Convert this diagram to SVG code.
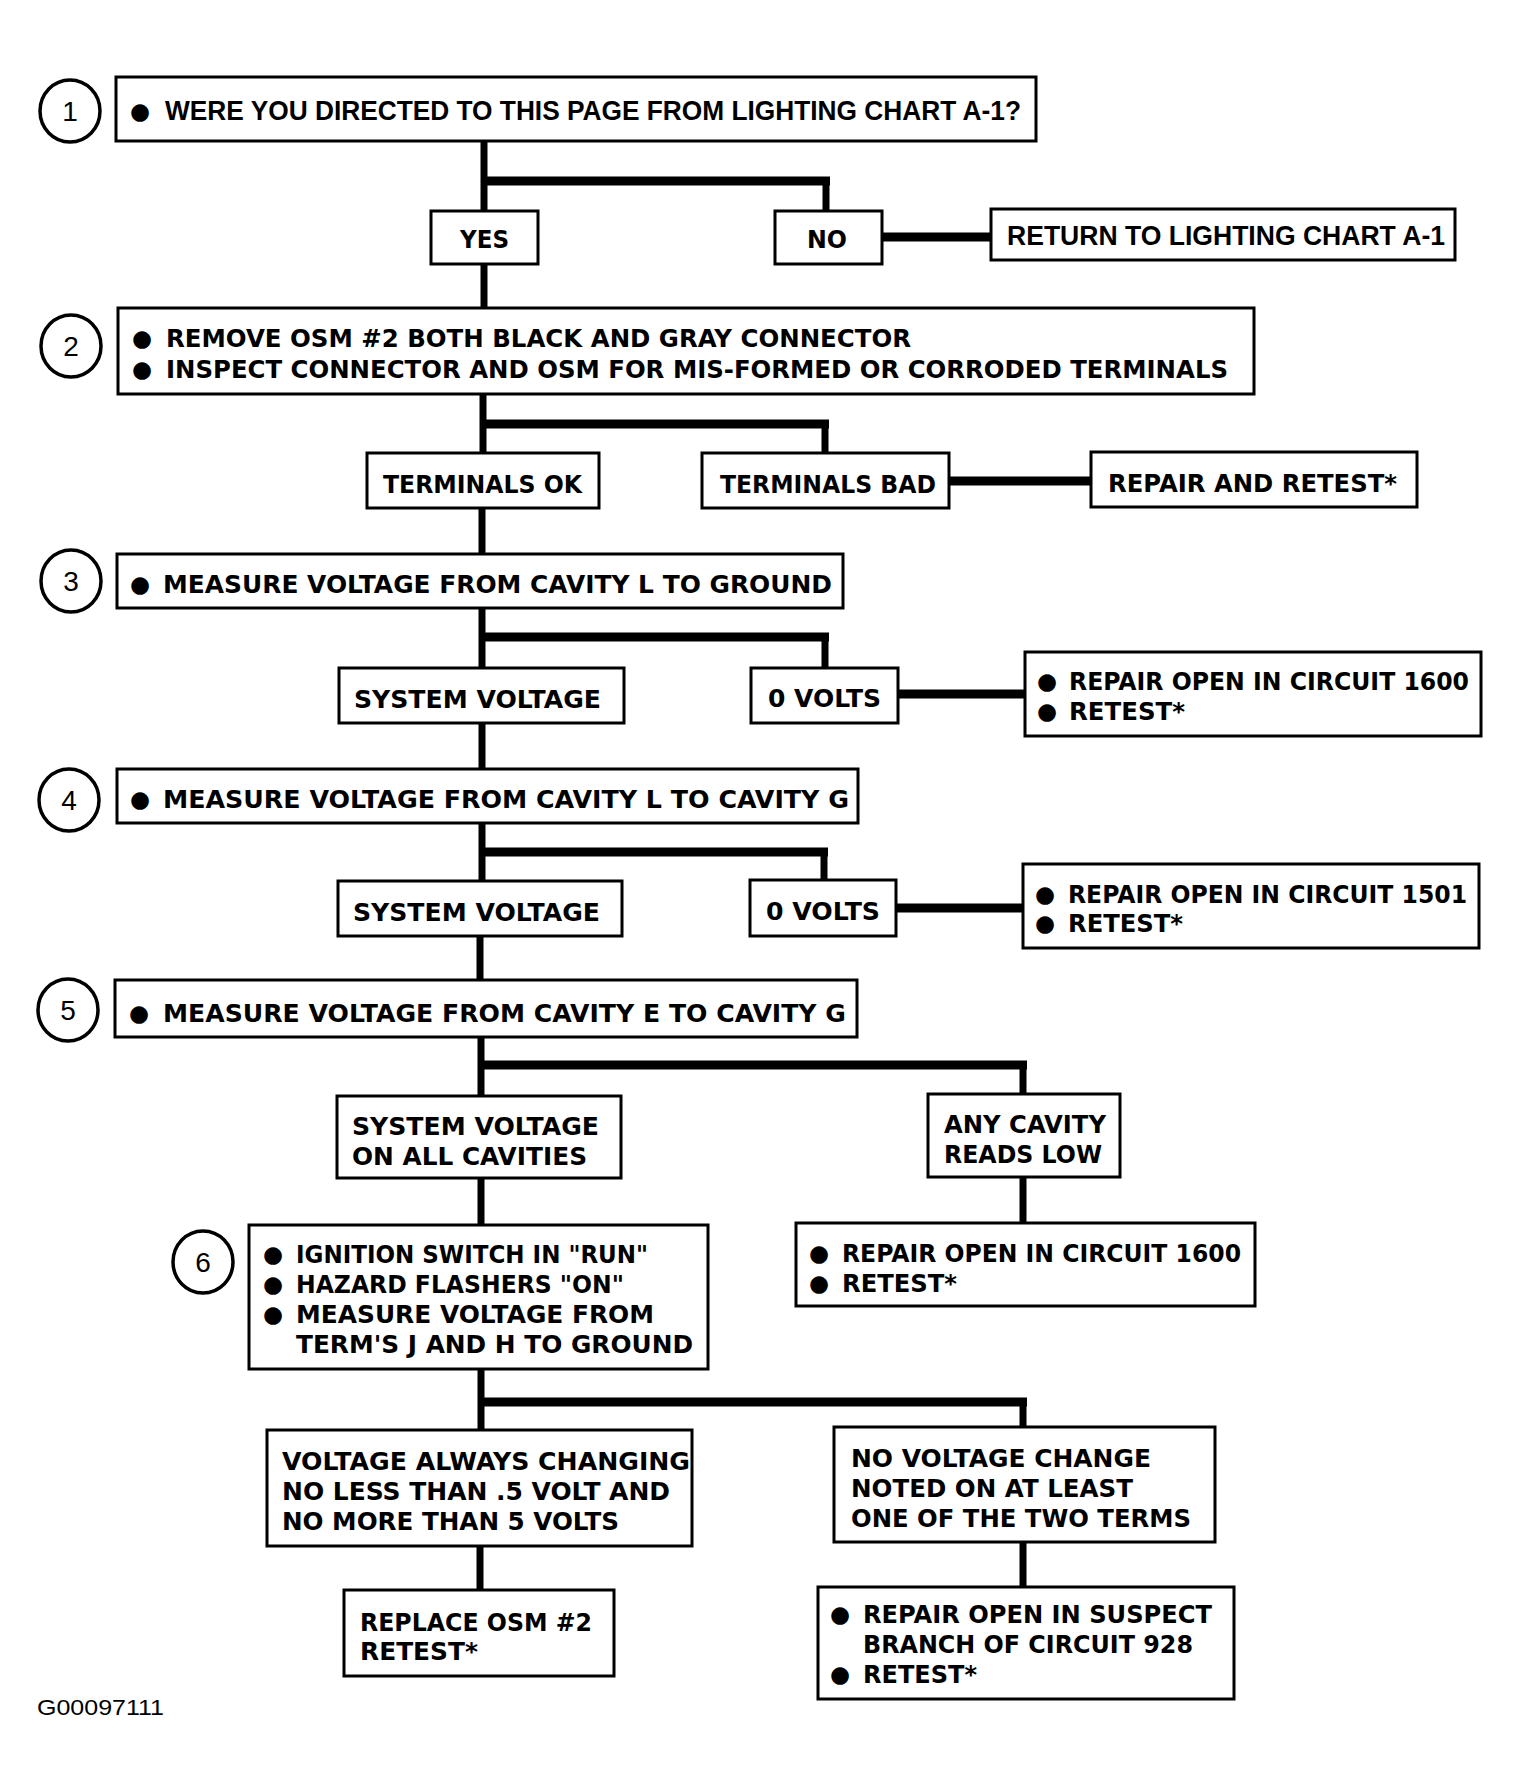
<svg xmlns="http://www.w3.org/2000/svg" width="1521" height="1791" viewBox="0 0 1521 1791">
<style>
.bg{fill:#fff}
.box{fill:#fff;stroke:#000;stroke-width:3}
.num{fill:#fff;stroke:#000;stroke-width:3.5}
.n{font-family:"Liberation Sans",Arial,sans-serif;font-size:28px;fill:#000;text-anchor:middle}
.c{font-family:"Liberation Sans",Arial,sans-serif;font-weight:bold;font-size:27px;fill:#000}
.w{font-family:"DejaVu Sans","Liberation Sans",sans-serif;font-weight:bold;font-size:24px;fill:#000}
.b{font-family:"DejaVu Sans","Liberation Sans",sans-serif;font-size:23px;fill:#000}
.f{font-family:"Liberation Sans",Arial,sans-serif;font-size:22px;fill:#000}
.v{stroke:#000;stroke-width:7;fill:none}
.h{stroke:#000;stroke-width:9;fill:none}
</style>
<rect class="bg" x="0" y="0" width="1521" height="1791"/>
<g id="connectors">
<line class="v" x1="484" y1="141" x2="484" y2="211"/>
<line class="h" x1="481" y1="181" x2="830" y2="181"/>
<line class="v" x1="826" y1="177" x2="826" y2="211"/>
<line class="h" x1="882" y1="237" x2="991" y2="237"/>
<line class="v" x1="484" y1="264" x2="484" y2="308"/>
<line class="v" x1="483" y1="394" x2="483" y2="453"/>
<line class="h" x1="480" y1="424" x2="829" y2="424"/>
<line class="v" x1="825" y1="420" x2="825" y2="453"/>
<line class="h" x1="949" y1="481" x2="1091" y2="481"/>
<line class="v" x1="482" y1="508" x2="482" y2="554"/>
<line class="v" x1="482" y1="608" x2="482" y2="668"/>
<line class="h" x1="479" y1="637" x2="829" y2="637"/>
<line class="v" x1="825" y1="633" x2="825" y2="668"/>
<line class="h" x1="898" y1="694" x2="1025" y2="694"/>
<line class="v" x1="482" y1="723" x2="482" y2="769"/>
<line class="v" x1="482" y1="823" x2="482" y2="881"/>
<line class="h" x1="479" y1="852" x2="828" y2="852"/>
<line class="v" x1="824" y1="848" x2="824" y2="880"/>
<line class="h" x1="896" y1="908" x2="1023" y2="908"/>
<line class="v" x1="480" y1="936" x2="480" y2="980"/>
<line class="v" x1="481" y1="1037" x2="481" y2="1096"/>
<line class="h" x1="478" y1="1065" x2="1027" y2="1065"/>
<line class="v" x1="1023" y1="1061" x2="1023" y2="1094"/>
<line class="v" x1="481" y1="1178" x2="481" y2="1225"/>
<line class="v" x1="1023" y1="1177" x2="1023" y2="1223"/>
<line class="v" x1="481" y1="1369" x2="481" y2="1430"/>
<line class="h" x1="478" y1="1402" x2="1027" y2="1402"/>
<line class="v" x1="1023" y1="1398" x2="1023" y2="1427"/>
<line class="v" x1="480" y1="1546" x2="480" y2="1590"/>
<line class="v" x1="1023" y1="1542" x2="1023" y2="1587"/>
</g>
<g id="step1">
<ellipse class="num" cx="70" cy="111" rx="30" ry="31"/>
<text class="n" x="70" y="121">1</text>
<rect class="box" x="116" y="77" width="920" height="64"/>
<text class="b" x="130" y="119">●</text>
<text class="c" x="165" y="120" textLength="856" lengthAdjust="spacingAndGlyphs">WERE YOU DIRECTED TO THIS PAGE FROM LIGHTING CHART A-1?</text>
</g>
<g id="yes1">
<rect class="box" x="431" y="211" width="107" height="53"/>
<text class="w" x="460" y="248" textLength="49" lengthAdjust="spacingAndGlyphs">YES</text>
</g>
<g id="no1">
<rect class="box" x="775" y="211" width="107" height="53"/>
<text class="w" x="807" y="248" textLength="40" lengthAdjust="spacingAndGlyphs">NO</text>
</g>
<g id="return">
<rect class="box" x="991" y="209" width="464" height="51"/>
<text class="c" x="1007" y="245" textLength="438" lengthAdjust="spacingAndGlyphs">RETURN TO LIGHTING CHART A-1</text>
</g>
<g id="step2">
<ellipse class="num" cx="71" cy="346" rx="30" ry="31"/>
<text class="n" x="71" y="356">2</text>
<rect class="box" x="118" y="308" width="1136" height="86"/>
<text class="b" x="132" y="346">●</text>
<text class="w" x="166" y="347" textLength="745" lengthAdjust="spacingAndGlyphs">REMOVE OSM #2 BOTH BLACK AND GRAY CONNECTOR</text>
<text class="b" x="132" y="377">●</text>
<text class="w" x="166" y="378" textLength="1062" lengthAdjust="spacingAndGlyphs">INSPECT CONNECTOR AND OSM FOR MIS-FORMED OR CORRODED TERMINALS</text>
</g>
<g id="terminals-ok">
<rect class="box" x="367" y="453" width="232" height="55"/>
<text class="w" x="383" y="493" textLength="199" lengthAdjust="spacingAndGlyphs">TERMINALS OK</text>
</g>
<g id="terminals-bad">
<rect class="box" x="702" y="453" width="247" height="55"/>
<text class="w" x="720" y="493" textLength="216" lengthAdjust="spacingAndGlyphs">TERMINALS BAD</text>
</g>
<g id="repair-retest">
<rect class="box" x="1091" y="452" width="326" height="55"/>
<text class="w" x="1108" y="492" textLength="289" lengthAdjust="spacingAndGlyphs">REPAIR AND RETEST*</text>
</g>
<g id="step3">
<ellipse class="num" cx="71" cy="581" rx="30" ry="31"/>
<text class="n" x="71" y="591">3</text>
<rect class="box" x="117" y="554" width="726" height="54"/>
<text class="b" x="130" y="592">●</text>
<text class="w" x="163" y="593" textLength="669" lengthAdjust="spacingAndGlyphs">MEASURE VOLTAGE FROM CAVITY L TO GROUND</text>
</g>
<g id="sysvolt1">
<rect class="box" x="339" y="668" width="285" height="55"/>
<text class="w" x="354" y="708" textLength="247" lengthAdjust="spacingAndGlyphs">SYSTEM VOLTAGE</text>
</g>
<g id="zerovolts1">
<rect class="box" x="751" y="668" width="147" height="55"/>
<text class="w" x="768" y="707" textLength="113" lengthAdjust="spacingAndGlyphs">0 VOLTS</text>
</g>
<g id="repair1600a">
<rect class="box" x="1025" y="652" width="456" height="84"/>
<text class="b" x="1037" y="689">●</text>
<text class="w" x="1069" y="690" textLength="400" lengthAdjust="spacingAndGlyphs">REPAIR OPEN IN CIRCUIT 1600</text>
<text class="b" x="1037" y="719">●</text>
<text class="w" x="1069" y="720" textLength="116" lengthAdjust="spacingAndGlyphs">RETEST*</text>
</g>
<g id="step4">
<ellipse class="num" cx="69" cy="800" rx="30" ry="31"/>
<text class="n" x="69" y="810">4</text>
<rect class="box" x="117" y="769" width="741" height="54"/>
<text class="b" x="130" y="807">●</text>
<text class="w" x="163" y="808" textLength="686" lengthAdjust="spacingAndGlyphs">MEASURE VOLTAGE FROM CAVITY L TO CAVITY G</text>
</g>
<g id="sysvolt2">
<rect class="box" x="338" y="881" width="284" height="55"/>
<text class="w" x="353" y="921" textLength="247" lengthAdjust="spacingAndGlyphs">SYSTEM VOLTAGE</text>
</g>
<g id="zerovolts2">
<rect class="box" x="750" y="880" width="146" height="56"/>
<text class="w" x="766" y="920" textLength="114" lengthAdjust="spacingAndGlyphs">0 VOLTS</text>
</g>
<g id="repair1501">
<rect class="box" x="1023" y="864" width="456" height="84"/>
<text class="b" x="1035" y="902">●</text>
<text class="w" x="1068" y="903" textLength="399" lengthAdjust="spacingAndGlyphs">REPAIR OPEN IN CIRCUIT 1501</text>
<text class="b" x="1035" y="931">●</text>
<text class="w" x="1068" y="932" textLength="115" lengthAdjust="spacingAndGlyphs">RETEST*</text>
</g>
<g id="step5">
<ellipse class="num" cx="68" cy="1010" rx="30" ry="31"/>
<text class="n" x="68" y="1020">5</text>
<rect class="box" x="115" y="980" width="742" height="57"/>
<text class="b" x="129" y="1021">●</text>
<text class="w" x="163" y="1022" textLength="683" lengthAdjust="spacingAndGlyphs">MEASURE VOLTAGE FROM CAVITY E TO CAVITY G</text>
</g>
<g id="sysvolt-all">
<rect class="box" x="337" y="1096" width="284" height="82"/>
<text class="w" x="352" y="1135" textLength="247" lengthAdjust="spacingAndGlyphs">SYSTEM VOLTAGE</text>
<text class="w" x="352" y="1165" textLength="235" lengthAdjust="spacingAndGlyphs">ON ALL CAVITIES</text>
</g>
<g id="any-cavity">
<rect class="box" x="928" y="1094" width="192" height="83"/>
<text class="w" x="944" y="1133" textLength="162" lengthAdjust="spacingAndGlyphs">ANY CAVITY</text>
<text class="w" x="944" y="1163" textLength="158" lengthAdjust="spacingAndGlyphs">READS LOW</text>
</g>
<g id="step6">
<ellipse class="num" cx="203" cy="1262" rx="30" ry="31"/>
<text class="n" x="203" y="1272">6</text>
<rect class="box" x="249" y="1225" width="459" height="144"/>
<text class="b" x="263" y="1262">●</text>
<text class="w" x="296" y="1263" textLength="352" lengthAdjust="spacingAndGlyphs">IGNITION SWITCH IN "RUN"</text>
<text class="b" x="263" y="1292">●</text>
<text class="w" x="296" y="1293" textLength="328" lengthAdjust="spacingAndGlyphs">HAZARD FLASHERS "ON"</text>
<text class="b" x="263" y="1322">●</text>
<text class="w" x="296" y="1323" textLength="358" lengthAdjust="spacingAndGlyphs">MEASURE VOLTAGE FROM</text>
<text class="w" x="296" y="1353" textLength="397" lengthAdjust="spacingAndGlyphs">TERM'S J AND H TO GROUND</text>
</g>
<g id="repair1600b">
<rect class="box" x="796" y="1223" width="459" height="83"/>
<text class="b" x="809" y="1261">●</text>
<text class="w" x="842" y="1262" textLength="399" lengthAdjust="spacingAndGlyphs">REPAIR OPEN IN CIRCUIT 1600</text>
<text class="b" x="809" y="1291">●</text>
<text class="w" x="842" y="1292" textLength="115" lengthAdjust="spacingAndGlyphs">RETEST*</text>
</g>
<g id="voltage-changing">
<rect class="box" x="267" y="1430" width="425" height="116"/>
<text class="w" x="282" y="1470" textLength="408" lengthAdjust="spacingAndGlyphs">VOLTAGE ALWAYS CHANGING</text>
<text class="w" x="282" y="1500" textLength="388" lengthAdjust="spacingAndGlyphs">NO LESS THAN .5 VOLT AND</text>
<text class="w" x="282" y="1530" textLength="337" lengthAdjust="spacingAndGlyphs">NO MORE THAN 5 VOLTS</text>
</g>
<g id="no-voltage-change">
<rect class="box" x="834" y="1427" width="381" height="115"/>
<text class="w" x="851" y="1467" textLength="300" lengthAdjust="spacingAndGlyphs">NO VOLTAGE CHANGE</text>
<text class="w" x="851" y="1497" textLength="282" lengthAdjust="spacingAndGlyphs">NOTED ON AT LEAST</text>
<text class="w" x="851" y="1527" textLength="340" lengthAdjust="spacingAndGlyphs">ONE OF THE TWO TERMS</text>
</g>
<g id="replace-osm">
<rect class="box" x="344" y="1590" width="270" height="86"/>
<text class="w" x="360" y="1631" textLength="232" lengthAdjust="spacingAndGlyphs">REPLACE OSM #2</text>
<text class="w" x="360" y="1660" textLength="118" lengthAdjust="spacingAndGlyphs">RETEST*</text>
</g>
<g id="repair928">
<rect class="box" x="818" y="1587" width="416" height="112"/>
<text class="b" x="830" y="1622">●</text>
<text class="w" x="863" y="1623" textLength="349" lengthAdjust="spacingAndGlyphs">REPAIR OPEN IN SUSPECT</text>
<text class="w" x="863" y="1653" textLength="330" lengthAdjust="spacingAndGlyphs">BRANCH OF CIRCUIT 928</text>
<text class="b" x="830" y="1682">●</text>
<text class="w" x="863" y="1683" textLength="114" lengthAdjust="spacingAndGlyphs">RETEST*</text>
</g>
<text class="f" x="37" y="1715" textLength="127" lengthAdjust="spacingAndGlyphs">G00097111</text>
</svg>
